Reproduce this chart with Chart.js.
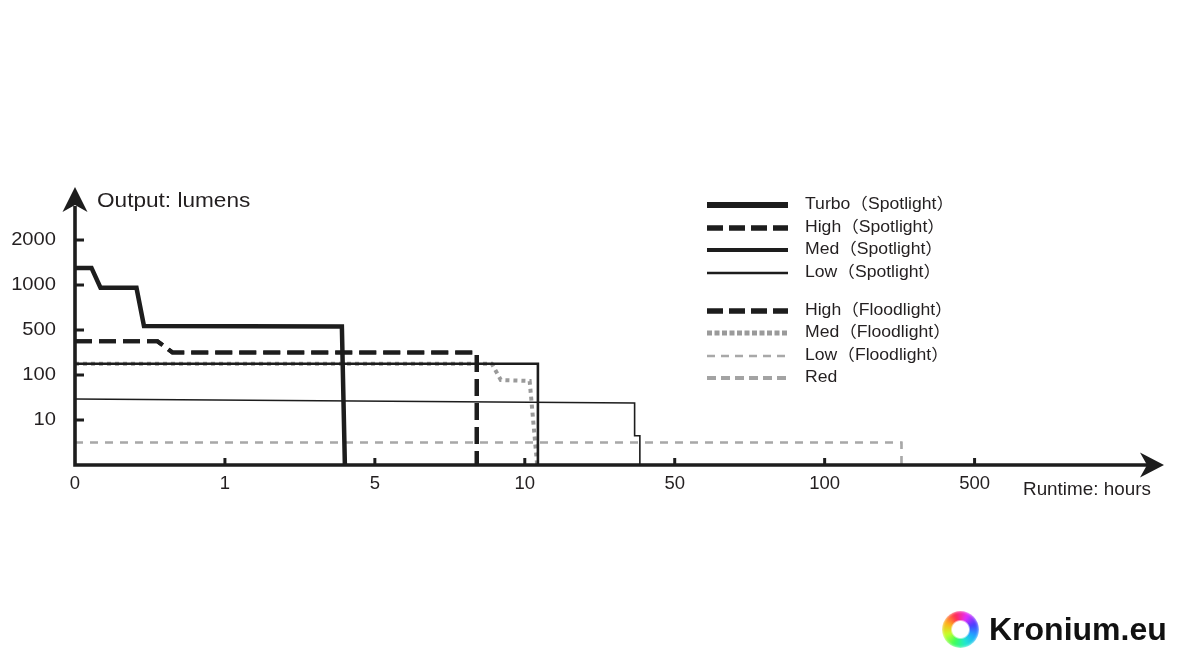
<!DOCTYPE html>
<html lang="en">
<head>
  <meta charset="UTF-8" />
  <title>Runtime: hours / Output: lumens</title>
  <script src="https://cdn.jsdelivr.net/npm/chart.js"></script>
  <style>
    body { margin: 0; background: #fff; }
    .wrap { position: relative; width: 1180px; height: 660px; }
    .brand { position: absolute; left: 942px; top: 611px; display: flex; align-items: center; }
    .ring {
      width: 37px; height: 37px; border-radius: 50%;
      background: conic-gradient(from -20deg, #ff2a55, #e52cff, #4a3cff, #1fa8ff, #20e8d0, #3dff5a, #c8ff2a, #ffb01a, #ff2a55);
      -webkit-mask: radial-gradient(circle, transparent 8px, #000 10px);
      mask: radial-gradient(circle, transparent 8px, #000 10px);
      filter: blur(1.6px);
    }
    .brand span { font: bold 32px "Liberation Sans", Arial, sans-serif; color: #111; margin-left: 10px; letter-spacing: 0; }
  </style>
</head>
<body>
  <div class="wrap">
    <canvas id="runtimeChart" width="1180" height="660"></canvas>
    <div class="brand"><div class="ring"></div><span>Kronium.eu</span></div>
  </div>

  <script>
// axis stops: each step is drawn the same width, whatever its value
const xStops = [0, 1, 5, 10, 50, 100, 500];      // hours
const yStops = [0, 10, 100, 500, 1000, 2000];    // lumens

const turboHours  = [0, 0.11, 0.17, 0.41, 0.46, 4.12, 4.2];
const turboLumens = [1380, 1380, 970, 970, 545, 540, 0];
const highHours   = [0, 0.55, 0.65, 8.4, 8.4];
const highLumens  = [400, 400, 300, 300, 0];
const medHours    = [0, 13.5, 13.5];
const medLumens   = [200, 200, 0];
const lowHours    = [0, 39.3, 39.3, 40.7, 40.7];
const lowLumens   = [52, 44, 6.5, 6.5, 0];
const medFloodHours  = [0, 8.9, 9.2, 11.3, 13.3];
const medFloodLumens = [200, 200, 90, 88, 0];
const lowFloodHours  = [0, 305, 305];
const lowFloodLumens = [5, 5, 0];
const redHours    = [0, 305, 305];
const redLumens   = [5, 5, 0];

const INK = '#1d1d1d';
const FONT = '"Liberation Sans", Arial, "Noto Sans CJK SC", sans-serif';

function points(xs, ys) {
  return xs.map((x, i) => ({ x: x, y: ys[i] }));
}

// linear scale that spaces the stops evenly (piecewise linear between them)
class StopScale extends Chart.LinearScale {
  getPixelForValue(value) {
    const stops = this.options.stops;
    let i = 0;
    while (i < stops.length - 2 && value > stops[i + 1]) i++;
    const pos = i + (value - stops[i]) / (stops[i + 1] - stops[i]);
    return this.getPixelForDecimal(pos / this.options.span);
  }
}
StopScale.id = 'stops';
Chart.register(StopScale);

function text(ctx, str, x, y, size, align, sx) {
  ctx.save();
  ctx.font = size + 'px ' + FONT;
  ctx.textAlign = align;
  ctx.textBaseline = 'middle';
  ctx.translate(x, y);
  ctx.scale(sx, 1);
  ctx.fillText(str, 0, 0);
  ctx.restore();
}

const axesPlugin = {
  id: 'arrowAxes',
  afterDatasetsDraw(chart) {
    const { ctx, chartArea: a, scales: { x, y } } = chart;
    ctx.save();
    ctx.strokeStyle = INK;
    ctx.fillStyle = INK;
    ctx.lineJoin = 'miter';
    ctx.lineWidth = 3.6;
    ctx.beginPath();
    ctx.moveTo(a.left, a.top - 4);
    ctx.lineTo(a.left, a.bottom);
    ctx.lineTo(a.right - 2, a.bottom);
    ctx.stroke();

    // arrow heads
    ctx.beginPath();
    ctx.moveTo(a.left, a.top - 23);
    ctx.lineTo(a.left + 12.5, a.top + 2);
    ctx.lineTo(a.left, a.top - 5);
    ctx.lineTo(a.left - 12.5, a.top + 2);
    ctx.closePath();
    ctx.fill();
    ctx.beginPath();
    ctx.moveTo(a.right + 14, a.bottom);
    ctx.lineTo(a.right - 10, a.bottom + 12.5);
    ctx.lineTo(a.right - 3, a.bottom);
    ctx.lineTo(a.right - 10, a.bottom - 12.5);
    ctx.closePath();
    ctx.fill();

    // ticks and labels
    ctx.lineWidth = 3;
    ctx.fillStyle = '#231f20';
    yStops.forEach((v, i) => {
      if (!i) return;
      const py = y.getPixelForValue(v);
      ctx.beginPath();
      ctx.moveTo(a.left, py);
      ctx.lineTo(a.left + 9, py);
      ctx.stroke();
      text(ctx, String(v), 56, py, 18, 'right', 1.12);
    });
    xStops.forEach((v, i) => {
      const px = x.getPixelForValue(v);
      if (i) {
        ctx.beginPath();
        ctx.moveTo(px, a.bottom - 7);
        ctx.lineTo(px, a.bottom);
        ctx.stroke();
      }
      text(ctx, String(v), px, a.bottom + 19, 18.5, 'center', 1);
    });

    text(ctx, 'Output: lumens', 97, 201, 20, 'left', 1.13);
    text(ctx, 'Runtime: hours', 1023, 490, 18.5, 'left', 1.02);

    // legend
    const rows = [205, 228, 250, 273, 311, 333, 356, 378];
    chart.data.datasets.forEach((ds, i) => {
      const ry = rows[i];
      ctx.save();
      ctx.strokeStyle = ds.borderColor;
      ctx.lineWidth = ds.legendWidth;
      ctx.setLineDash(ds.legendDash || ds.borderDash || []);
      ctx.beginPath();
      ctx.moveTo(707, ry);
      ctx.lineTo(788, ry);
      ctx.stroke();
      ctx.restore();
      text(ctx, ds.label, 805, ry, 16, 'left', 1.1);
    });
    ctx.restore();
  }
};

const ctx = document.getElementById('runtimeChart').getContext('2d');
new Chart(ctx, {
  type: 'line',
  data: {
    datasets: [
      { label: 'Turbo（Spotlight）', data: points(turboHours, turboLumens),
        borderColor: INK, borderWidth: 4.5, legendWidth: 6 },
      { label: 'High（Spotlight）', data: points(highHours, highLumens),
        borderColor: INK, borderWidth: 4.2, borderDash: [17, 7], legendWidth: 5.5, legendDash: [16, 6] },
      { label: 'Med（Spotlight）', data: points(medHours, medLumens),
        borderColor: INK, borderWidth: 2.6, legendWidth: 4 },
      { label: 'Low（Spotlight）', data: points(lowHours, lowLumens),
        borderColor: INK, borderWidth: 1.6, legendWidth: 2.4 },
      { label: 'High（Floodlight）', data: points(highHours, highLumens),
        borderColor: INK, borderWidth: 4.2, borderDash: [17, 7], legendWidth: 5.5, legendDash: [16, 6] },
      { label: 'Med（Floodlight）', data: points(medFloodHours, medFloodLumens),
        borderColor: '#9a9a9a', borderWidth: 4, borderDash: [4, 4], legendWidth: 5, legendDash: [5, 2.5] },
      { label: 'Low（Floodlight）', data: points(lowFloodHours, lowFloodLumens),
        borderColor: '#a8a8a8', borderWidth: 2, borderDash: [8, 7], legendWidth: 2.4, legendDash: [8, 6] },
      { label: 'Red', data: points(redHours, redLumens),
        borderColor: '#a3a3a3', borderWidth: 2.2, borderDash: [8, 7], legendWidth: 4, legendDash: [9, 5] }
    ]
  },
  options: {
    responsive: false,
    animation: false,
    events: [],
    clip: false,
    layout: { padding: { left: 75, right: 30, top: 210, bottom: 195 } },
    elements: {
      point: { radius: 0 },
      line: { tension: 0, borderCapStyle: 'butt', borderJoinStyle: 'miter', fill: false }
    },
    plugins: { legend: { display: false }, tooltip: { enabled: false } },
    scales: {
      x: { type: 'stops', display: false, min: 0, max: 100000, stops: xStops, span: 7.17 },
      y: { type: 'stops', display: false, min: 0, max: 100000, stops: yStops, span: 5.667 }
    }
  },
  plugins: [axesPlugin]
});
  </script>
</body>
</html>
